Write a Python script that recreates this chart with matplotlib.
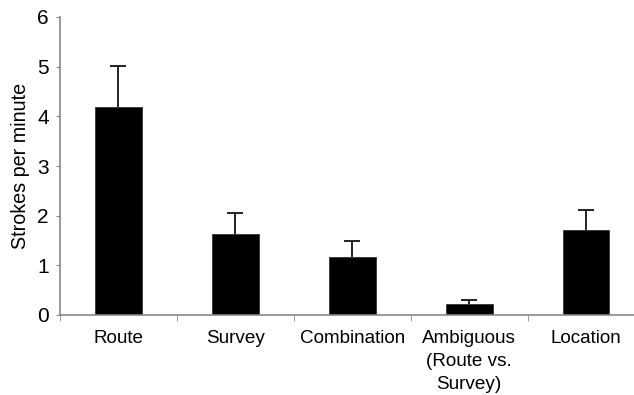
import numpy as np
import matplotlib.pyplot as plt

categories = ["Route", "Survey", "Combination", "Ambiguous\n(Route vs.\nSurvey)", "Location"]
means = [4.18, 1.64, 1.17, 0.22, 1.72]
errors = [0.83, 0.41, 0.33, 0.08, 0.39]

plt.rcParams['font.family'] = ['Liberation Sans', 'DejaVu Sans']

fig = plt.figure(figsize=(6.34, 3.95), dpi=100)
ax = fig.add_axes([60 / 634, 1 - 315 / 395, 1 - 60 / 634, (315 - 17) / 395])

x = np.arange(len(categories))
ax.bar(x, means, width=0.4, color='black', edgecolor='#333333', linewidth=0.6, zorder=2)
eb = ax.errorbar(x, means, yerr=[np.zeros(len(errors)), errors], fmt='none',
                 ecolor='#222222', elinewidth=1.4, capsize=5.5, capthick=1.4, zorder=1)
# only the upper cap is drawn
eb[1][0].set_visible(False)

ax.set_xlim(-0.5, 4.41)
ax.set_ylim(0, 6)
ax.set_yticks(range(7))
ax.set_xticks(x)
ax.set_xticklabels(categories, fontsize=13.6, linespacing=1.45, va='top')
ax.set_xticks(np.arange(-0.5, 4.5, 1), minor=True)
ax.tick_params(axis='x', which='major', length=0, pad=11)
ax.tick_params(axis='x', which='minor', length=4, color='#888888', direction='out')
ax.tick_params(axis='y', length=3, color='#888888', labelsize=15, pad=5)
ax.set_ylabel("Strokes per minute", fontsize=14.2, labelpad=5)

for s in ['top', 'right']:
    ax.spines[s].set_visible(False)
for s in ['left', 'bottom']:
    ax.spines[s].set_color('#888888')
    ax.spines[s].set_linewidth(1.2)

fig.savefig("out.png", dpi=100)
